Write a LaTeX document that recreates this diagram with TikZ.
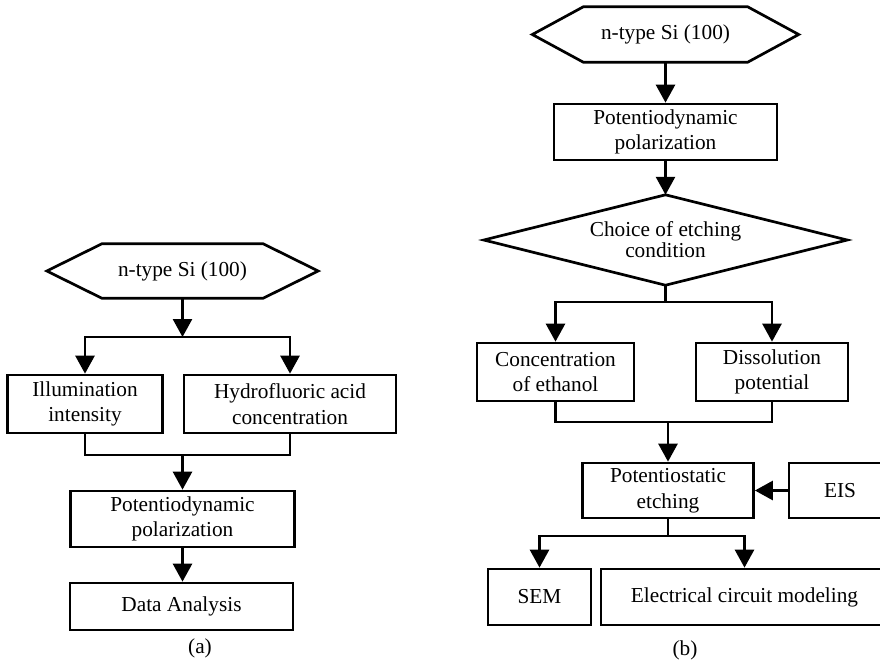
\documentclass[tikz,border=0pt]{standalone}
\usepackage{fontspec}
\setmainfont{Liberation Serif}
\usetikzlibrary{arrows.meta}
\begin{document}
\begin{tikzpicture}[x=1pt,y=-1pt,
  every node/.style={font=\fontsize{21.3}{25.5}\selectfont, align=center, inner sep=0pt},
  bx/.style={draw, line width=2.7pt},
  ln/.style={line width=2.7pt},
  arr/.style={line width=2.7pt, -{Triangle[length=18pt,width=19pt]}}]
\useasboundingbox (0,0) rectangle (880,662);
\begin{scope}
\clip (0,0) rectangle (880,662);
% ---------- (a) ----------
\node[minimum width=161pt, minimum height=54pt] (hexA) at (182.5,271) {n-type Si (100)};
\draw[ln] (hexA.north west) -- (hexA.north east) -- ([xshift=55pt]hexA.east) -- (hexA.south east) -- (hexA.south west) -- ([xshift=-55pt]hexA.west) -- cycle;
\node[bx, minimum width=155pt, minimum height=58pt] (illum) at (85,404) {Illumination\\intensity};
\node[bx, minimum width=212pt, minimum height=58pt] (hf) at (290,404) {Hydrofluoric acid\\concentration};
\node[bx, minimum width=224pt, minimum height=56pt] (pdA) at (182.5,519) {Potentiodynamic\\polarization};
\node[bx, minimum width=223pt, minimum height=47pt] (da) at (181.5,606.5) {Data Analysis};
\node (la) at (200,648) {(a)};
\coordinate (sA) at (182.5,337);
\coordinate (jA) at (182.5,455);
\draw[arr] (hexA.south) -- (sA);
\draw[arr] (sA) -| (illum.north);
\draw[arr] (sA) -| (hf.north);
\draw[ln] (illum.south) |- (jA) -| (hf.south);
\draw[arr] (jA) -- (pdA.north);
\draw[arr] (pdA.south) -- (pdA.south |- da.north);
% ---------- (b) ----------
\node[minimum width=164pt, minimum height=55pt] (hexB) at (665.5,34.5) {n-type Si (100)};
\draw[ln] (hexB.north west) -- (hexB.north east) -- ([xshift=51pt]hexB.east) -- (hexB.south east) -- (hexB.south west) -- ([xshift=-51pt]hexB.west) -- cycle;
\node[bx, minimum width=223pt, minimum height=56pt] (pdB) at (665.5,132) {Potentiodynamic\\polarization};
\node[minimum width=363pt, minimum height=90pt, font=\fontsize{21.3}{21}\selectfont] (dB) at (665.5,240) {Choice of etching\\condition};
\draw[ln] (dB.north) -- (dB.east) -- (dB.south) -- (dB.west) -- cycle;
\node[bx, minimum width=157pt, minimum height=58pt] (conc) at (555.5,372) {Concentration\\of ethanol};
\node[bx, minimum width=152pt, minimum height=58pt] (diss) at (772,372) {Dissolution\\potential};
\node[bx, minimum width=171pt, minimum height=55pt] (pot) at (668,490.5) {Potentiostatic\\etching};
\node[bx, minimum width=102pt, minimum height=55pt] (eis) at (840,490.5) {EIS};
\node[bx, minimum width=103pt, minimum height=56pt] (sem) at (539.5,597) {SEM};
\node[bx, minimum width=287pt, minimum height=56pt] (elec) at (744.5,597) {Electrical circuit modeling};
\node (lb) at (685,650) {(b)};
\coordinate (sB) at (665.5,302);
\coordinate (jB) at (668,422);
\coordinate (sC) at (668,536);
\draw[arr] (hexB.south) -- (pdB.north);
\draw[arr] (pdB.south) -- (dB.north);
\draw[ln] (dB.south) -- (sB);
\draw[arr] (sB) -| (conc.north);
\draw[arr] (sB) -| (diss.north);
\draw[ln] (conc.south) |- (jB) -| (diss.south);
\draw[arr] (jB) -- (pot.north);
\draw[arr] (eis.west) -- (pot.east);
\draw[ln] (pot.south) -- (sC);
\draw[arr] (sC) -| (sem.north);
\draw[arr] (sC) -| (elec.north);
\end{scope}
\end{tikzpicture}
\end{document}
